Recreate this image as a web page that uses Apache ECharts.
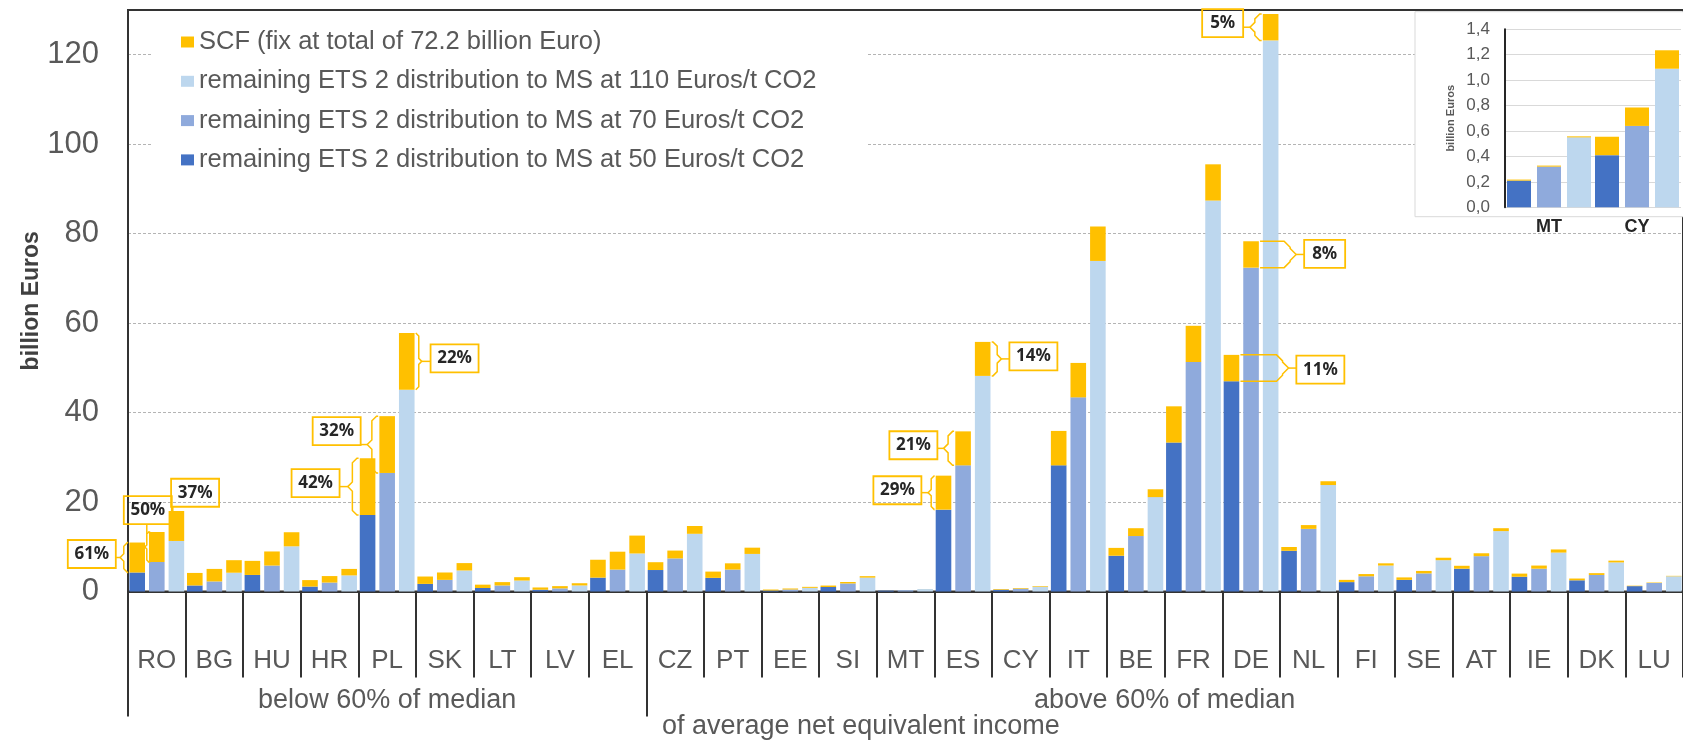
<!DOCTYPE html>
<html lang="en">
<head>
<meta charset="UTF-8">
<title>ETS 2 distribution and SCF by Member State</title>
<script src="https://cdn.jsdelivr.net/npm/echarts@6.0.0/dist/echarts.min.js"></script>
<style>
    html, body { margin: 0; padding: 0; background: #fff; }
    #main { width: 1683px; height: 740px; }
</style>
</head>
<body>
<div id="main"></div>
<script type="text/javascript">
    // Member States, ordered by income group
    var countries = ['RO', 'BG', 'HU', 'HR', 'PL', 'SK', 'LT', 'LV', 'EL', 'CZ', 'PT', 'EE', 'SI', 'MT',
        'ES', 'CY', 'IT', 'BE', 'FR', 'DE', 'NL', 'FI', 'SE', 'AT', 'IE', 'DK', 'LU'];
    // remaining ETS 2 distribution (billion Euro) at 50 / 70 / 110 Euros/t CO2
    var ets50 = [4.25, 1.35, 3.7, 1.1, 17.1, 1.7, 0.78, 0.4, 3.1, 4.8, 3.05, 0.22, 1.0, 0.21,
        18.3, 0.41, 28.2, 8.0, 33.3, 47.0, 9.1, 2.1, 2.6, 5.1, 3.3, 2.5, 1.2];
    var ets70 = [6.6, 2.25, 5.8, 2.0, 26.5, 2.6, 1.35, 0.7, 4.9, 7.4, 4.9, 0.45, 1.8, 0.32,
        28.2, 0.64, 43.4, 12.4, 51.3, 72.4, 14.0, 3.4, 4.05, 7.9, 5.1, 3.7, 1.9];
    var ets110 = [11.3, 4.2, 10.1, 3.6, 45.1, 4.7, 2.45, 1.35, 8.5, 12.9, 8.4, 0.82, 3.1, 0.55,
        48.2, 1.09, 73.9, 21.1, 87.4, 123.2, 23.8, 5.8, 7.0, 13.5, 8.7, 6.5, 3.4];
    // SCF share, the same on top of each of the three bars
    var scf = [6.7, 2.8, 3.15, 1.45, 12.7, 1.65, 0.75, 0.5, 4.0, 1.75, 1.4, 0.22, 0.33, 0.008,
        7.6, 0.145, 7.7, 1.75, 8.1, 5.9, 0.85, 0.5, 0.55, 0.65, 0.7, 0.4, 0.1];

    // income groups (number of countries in each)
    var groupNames = ['below 60% of median', 'above 60% of median'];
    var groupSizes = [9, 18];

    // y axis ticks
    var yTicks = [0, 20, 40, 60, 80, 100, 120];
    var insetTicks = [0, 0.2, 0.4, 0.6, 0.8, 1.0, 1.2, 1.4];
    var insetCountries = ['MT', 'CY'];

    // SCF share callouts
    var noteCountry = ['RO', 'RO', 'RO', 'PL', 'PL', 'PL', 'ES', 'ES', 'ES', 'DE', 'DE', 'DE'];
    var noteSlot = [0, 1, 2, 0, 1, 2, 0, 1, 2, 0, 1, 2];
    var noteText = ['61%', '50%', '37%', '42%', '32%', '22%', '29%', '21%', '14%', '11%', '8%', '5%'];
    // callout layout in px, relative to the bar and to the middle of its SCF part
    var noteBracketX = [-13.4, -10, -3.6, -15.2, -15.3, 12, -12.3, -15, 14.5, 51.1, 39.1, -15.8];
    var noteBoxX = [-45.4, -9, 18.7, -52, -50.5, 47.8, -46.1, -49.7, 50.7, 88.9, 73.6, -48];
    var noteBoxY = [-3.5, -36.9, -33.2, -3.4, -13.4, -2.9, -2.4, -3.1, -2.5, 1.6, -0.5, -4.1];

    var NAME_SCF = 'SCF (fix at total of 72.2 billion Euro)';
    var NAME_50 = 'remaining ETS 2 distribution to MS at 50 Euros/t CO2';
    var NAME_70 = 'remaining ETS 2 distribution to MS at 70 Euros/t CO2';
    var NAME_110 = 'remaining ETS 2 distribution to MS at 110 Euros/t CO2';
    var C_SCF = '#FFC000', C_50 = '#4472C4', C_70 = '#8FAADC', C_110 = '#BDD7EE';

    var BAR_W = 15.6, BAR_GAP = 4, CAT_W = 58.06;
    var FONT = '"Liberation Sans", Arial, sans-serif';

    var groupBreaks = [0], groupCenters = [];
    groupSizes.forEach(function (n, i) {
        groupCenters.push(groupBreaks[i] + n / 2);
        groupBreaks.push(groupBreaks[i] + n);
    });
    groupBreaks.pop();

    var etsBySlot = [ets50, ets70, ets110];
    var insetIdx = insetCountries.map(function (c) { return countries.indexOf(c); });
    function pick(arr) { return insetIdx.map(function (i) { return arr[i]; }); }

    var notes = noteCountry.map(function (c, j) {
        var ci = countries.indexOf(c);
        var low = etsBySlot[noteSlot[j]][ci];
        return [ci, noteSlot[j], low, low + scf[ci]];
    });

    function renderNote(params, api) {
        var i = params.dataIndex;
        var slot = api.value(1);
        var pLow = api.coord([api.value(0), api.value(2)]);
        var pHigh = api.coord([api.value(0), api.value(3)]);
        var cx = pLow[0] + (slot - 1) * (BAR_W + BAR_GAP);
        var y1 = pHigh[1], y2 = pLow[1], ym = (y1 + y2) / 2;
        var dx = noteBracketX[i], s = dx < 0 ? -1 : 1;
        var xv = cx + dx;
        var bw = 27 + 7 * noteText[i].length, bh = 28;
        var bcx = cx + noteBoxX[i], bcy = ym + noteBoxY[i];
        var line = { stroke: C_SCF, lineWidth: 1.5, fill: null };
        var children = [];
        var c = 0;
        if (Math.abs(dx) > 9) {
            var xh = cx + s * 9;
            c = Math.min(Math.abs(xv - xh) * 0.5 + 1.5, (y2 - y1) / 4, 6);
            children.push({
                type: 'polyline',
                shape: { points: [[xh, y1], [xv - s * c, y1], [xv, y1 + c], [xv, ym - c], [xv + s * c, ym],
                    [xv, ym + c], [xv, y2 - c], [xv - s * c, y2], [xh, y2]] },
                style: line
            });
        } else {
            children.push({ type: 'line', shape: { x1: xv, y1: y1, x2: xv, y2: y2 }, style: line });
        }
        if (bcy - bh / 2 <= ym && bcy + bh / 2 >= ym) {
            children.push({ type: 'line', shape: { x1: xv + s * c, y1: ym, x2: bcx - s * bw / 2, y2: ym }, style: line });
        } else if (bcy + bh / 2 < y1) {
            children.push({ type: 'line', shape: { x1: xv, y1: y1 + c, x2: xv, y2: bcy + bh / 2 }, style: line });
        }
        children.push({
            type: 'rect',
            shape: { x: bcx - bw / 2, y: bcy - bh / 2, width: bw, height: bh },
            style: { fill: null, stroke: C_SCF, lineWidth: 1.8 },
            textContent: { style: { text: noteText[i], fill: '#262626', font: 'bold 17px "Noto Sans", sans-serif' } },
            textConfig: { position: 'inside' }
        });
        return { type: 'group', children: children };
    }

    function barSeries(name, data, stack, color, xi, yi, bw, gap, z) {
        return {
            name: name, type: 'bar', stack: stack, data: data,
            xAxisIndex: xi, yAxisIndex: yi, barWidth: bw, barGap: gap, z: z,
            itemStyle: { color: color }
        };
    }

    var myChart = echarts.init(document.getElementById('main'));
    var mainGap = (BAR_GAP / BAR_W * 100).toFixed(1) + '%';
    var option = {
        animation: false,
        backgroundColor: '#fff',
        textStyle: { fontFamily: FONT },
        title: {
            text: 'of average net equivalent income',
            left: 657, top: 708,
            textStyle: { fontSize: 27, fontWeight: 'normal', color: '#595959', fontFamily: FONT }
        },
        legend: {
            orient: 'vertical', left: 153, top: 12,
            padding: [17, 50, 8, 28],
            backgroundColor: '#fff',
            itemWidth: 13, itemHeight: 11, itemGap: 13.3, icon: 'rect',
            selectedMode: false,
            textStyle: { fontSize: 25.5, color: '#595959', lineHeight: 25 },
            data: [NAME_SCF, NAME_110, NAME_70, NAME_50]
        },
        grid: [
            { left: 128, top: 10, width: countries.length * CAT_W, height: 581.5,
                show: true, borderColor: '#333', borderWidth: 2, backgroundColor: 'transparent' },
            { left: 1505, top: 29.3, width: 176, height: 178 }
        ],
        graphic: {
            elements: [{
                type: 'rect', z: 3,
                shape: { x: 1415, y: 11.7, width: 290, height: 205 },
                style: { fill: '#fff', stroke: '#d9d9d9', lineWidth: 1 }
            }]
        },
        xAxis: [
            {
                type: 'category', gridIndex: 0, data: countries,
                axisLine: { lineStyle: { color: '#333', width: 2 } },
                axisTick: { show: true, length: 86, interval: 0, alignWithLabel: false, lineStyle: { color: '#333', width: 2 } },
                axisLabel: { interval: 0, margin: 56, fontSize: 26, color: '#595959' }
            },
            {
                type: 'value', gridIndex: 0, min: 0, max: countries.length, position: 'bottom', offset: 0,
                axisLine: { show: false }, splitLine: { show: false },
                axisTick: { show: true, customValues: groupBreaks, length: 125, lineStyle: { color: '#333', width: 2 } },
                axisLabel: {
                    customValues: groupCenters, margin: 96, fontSize: 27, color: '#595959',
                    formatter: function (v) { return groupNames[groupCenters.indexOf(v)]; }
                }
            },
            {
                type: 'category', gridIndex: 1, data: insetCountries, z: 4,
                axisLine: { show: false }, axisTick: { show: false },
                axisLabel: { margin: 11, fontSize: 18, fontWeight: 'bold', color: '#262626' }
            }
        ],
        yAxis: [
            {
                type: 'value', gridIndex: 0, min: yTicks[0], max: 130, interval: yTicks[1] - yTicks[0],
                name: 'billion Euros', nameLocation: 'middle', nameRotate: 90, nameGap: 85,
                nameMoveOverlap: false,
                nameTextStyle: { fontSize: 23, fontWeight: 'bold', color: '#404040' },
                axisLine: { show: true, lineStyle: { color: '#333', width: 2 } },
                axisTick: { show: false },
                axisLabel: { fontSize: 31, color: '#595959', margin: 29, showMaxLabel: false },
                splitLine: { showMaxLine: false, lineStyle: { color: '#b4b4b4', type: [3, 2], width: 1 } }
            },
            {
                type: 'value', gridIndex: 1, min: insetTicks[0], max: insetTicks[insetTicks.length - 1],
                interval: insetTicks[1] - insetTicks[0], z: 4,
                name: 'billion Euros', nameLocation: 'middle', nameRotate: 90, nameGap: 49,
                nameTextStyle: { fontSize: 11, fontWeight: 'bold', color: '#595959' },
                axisLine: { show: true, lineStyle: { color: '#262626', width: 2 } },
                axisTick: { show: false },
                axisLabel: {
                    fontSize: 17, color: '#595959', margin: 15,
                    formatter: function (v) { return v.toFixed(1).replace('.', ','); }
                },
                splitLine: { lineStyle: { color: '#d9d9d9', width: 1 } }
            }
        ],
        series: [
            barSeries(NAME_50, ets50, 's50', C_50, 0, 0, BAR_W, mainGap, 2),
            barSeries(NAME_SCF, scf, 's50', C_SCF, 0, 0, BAR_W, mainGap, 2),
            barSeries(NAME_70, ets70, 's70', C_70, 0, 0, BAR_W, mainGap, 2),
            barSeries(NAME_SCF, scf, 's70', C_SCF, 0, 0, BAR_W, mainGap, 2),
            barSeries(NAME_110, ets110, 's110', C_110, 0, 0, BAR_W, mainGap, 2),
            barSeries(NAME_SCF, scf, 's110', C_SCF, 0, 0, BAR_W, mainGap, 2),
            // inset, small countries
            barSeries(NAME_50, pick(ets50), 'i50', C_50, 2, 1, 24, '25%', 5),
            barSeries(NAME_SCF, pick(scf), 'i50', C_SCF, 2, 1, 24, '25%', 5),
            barSeries(NAME_70, pick(ets70), 'i70', C_70, 2, 1, 24, '25%', 5),
            barSeries(NAME_SCF, pick(scf), 'i70', C_SCF, 2, 1, 24, '25%', 5),
            barSeries(NAME_110, pick(ets110), 'i110', C_110, 2, 1, 24, '25%', 5),
            barSeries(NAME_SCF, pick(scf), 'i110', C_SCF, 2, 1, 24, '25%', 5),
            {
                type: 'custom', name: 'callouts', xAxisIndex: 0, yAxisIndex: 0, z: 6, clip: false,
                encode: { x: 0, y: 3 },
                data: notes,
                renderItem: renderNote
            }
        ]
    };
    myChart.setOption(option);
</script>
</body>
</html>
